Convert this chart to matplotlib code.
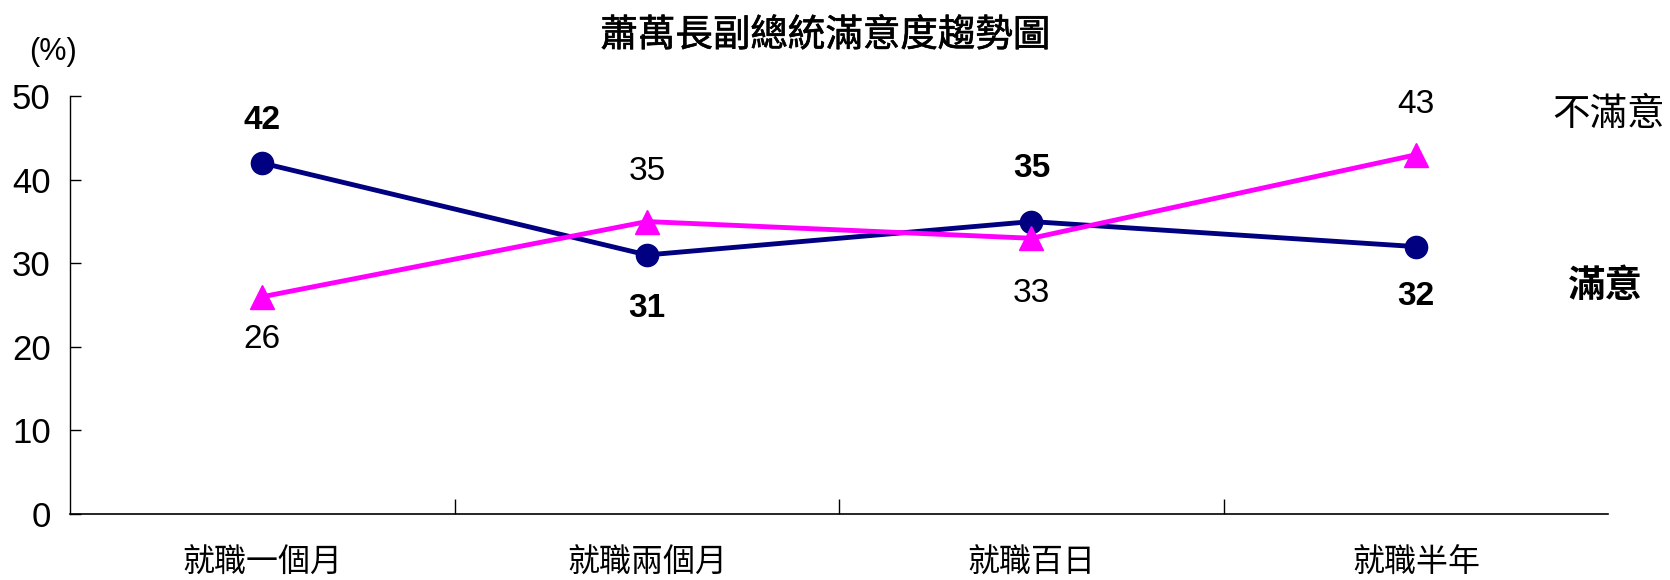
import matplotlib.pyplot as plt
import matplotlib.patheffects as pe
from matplotlib.ticker import FixedLocator

plt.rcParams['font.family'] = ['Liberation Sans', 'Noto Sans CJK TC', 'DejaVu Sans']

periods = ['就職一個月', '就職兩個月', '就職百日', '就職半年']
satisfied = [42, 31, 35, 32]
dissatisfied = [26, 35, 33, 43]
# pixel offset of each value label from its point (+ above, - below)
sat_off = [43, -54, 53, -50]
dis_off = [-43, 50, -55, 50]

fig = plt.figure(figsize=(16.7, 5.8), dpi=100)
ax = fig.add_axes([0.042, 0.114, 0.921, 0.72])

x = list(range(len(periods)))
ax.plot(x, satisfied, color='#000080', lw=3.5, marker='o', ms=16, zorder=3)
ax.plot(x, dissatisfied, color='#FF00FF', lw=3.5, marker='^', ms=17, zorder=3)

for xi, v, o in zip(x, satisfied, sat_off):
    ax.annotate(str(v), (xi, v), xytext=(0, o), textcoords='offset pixels',
                ha='center', va='center', fontsize=24, fontweight='bold')
for xi, v, o in zip(x, dissatisfied, dis_off):
    ax.annotate(str(v), (xi, v), xytext=(0, o), textcoords='offset pixels',
                ha='center', va='center', fontsize=24)

ax.set_xlim(-0.5, 3.5)
ax.set_ylim(0, 50)
ax.set_yticks(range(0, 51, 10))
ax.set_xticks(x)
ax.set_xticklabels(periods, fontsize=23, family=['Noto Sans CJK TC'])
ax.xaxis.set_minor_locator(FixedLocator([0.5, 1.5, 2.5]))
ax.tick_params(axis='x', which='major', length=0, pad=24)
ax.tick_params(axis='x', which='minor', direction='in', length=11, width=1)
ax.tick_params(axis='y', direction='in', length=8, width=1, labelsize=25, pad=14)

for side in ['top', 'right']:
    ax.spines[side].set_visible(False)
ax.spines['left'].set_linewidth(1)
ax.spines['bottom'].set_linewidth(1.2)

ax.text(0.491, 1.145, '蕭萬長副總統滿意度趨勢圖', transform=ax.transAxes,
        ha='center', va='center', fontsize=27, family=['Noto Sans CJK TC'],
        path_effects=[pe.withStroke(linewidth=0.45, foreground='black')])
ax.text(-0.011, 1.105, '(%)', transform=ax.transAxes, ha='center', va='center', fontsize=22)
ax.text(1.0, 47.8, '不滿意', transform=ax.get_yaxis_transform(), ha='center', va='center',
        fontsize=27, family=['Noto Sans CJK TC'])
ax.text(0.998, 27.4, '滿意', transform=ax.get_yaxis_transform(), ha='center', va='center',
        fontsize=27, fontweight='bold', family=['Noto Sans CJK TC'])

fig.savefig('out.png', dpi=100)
